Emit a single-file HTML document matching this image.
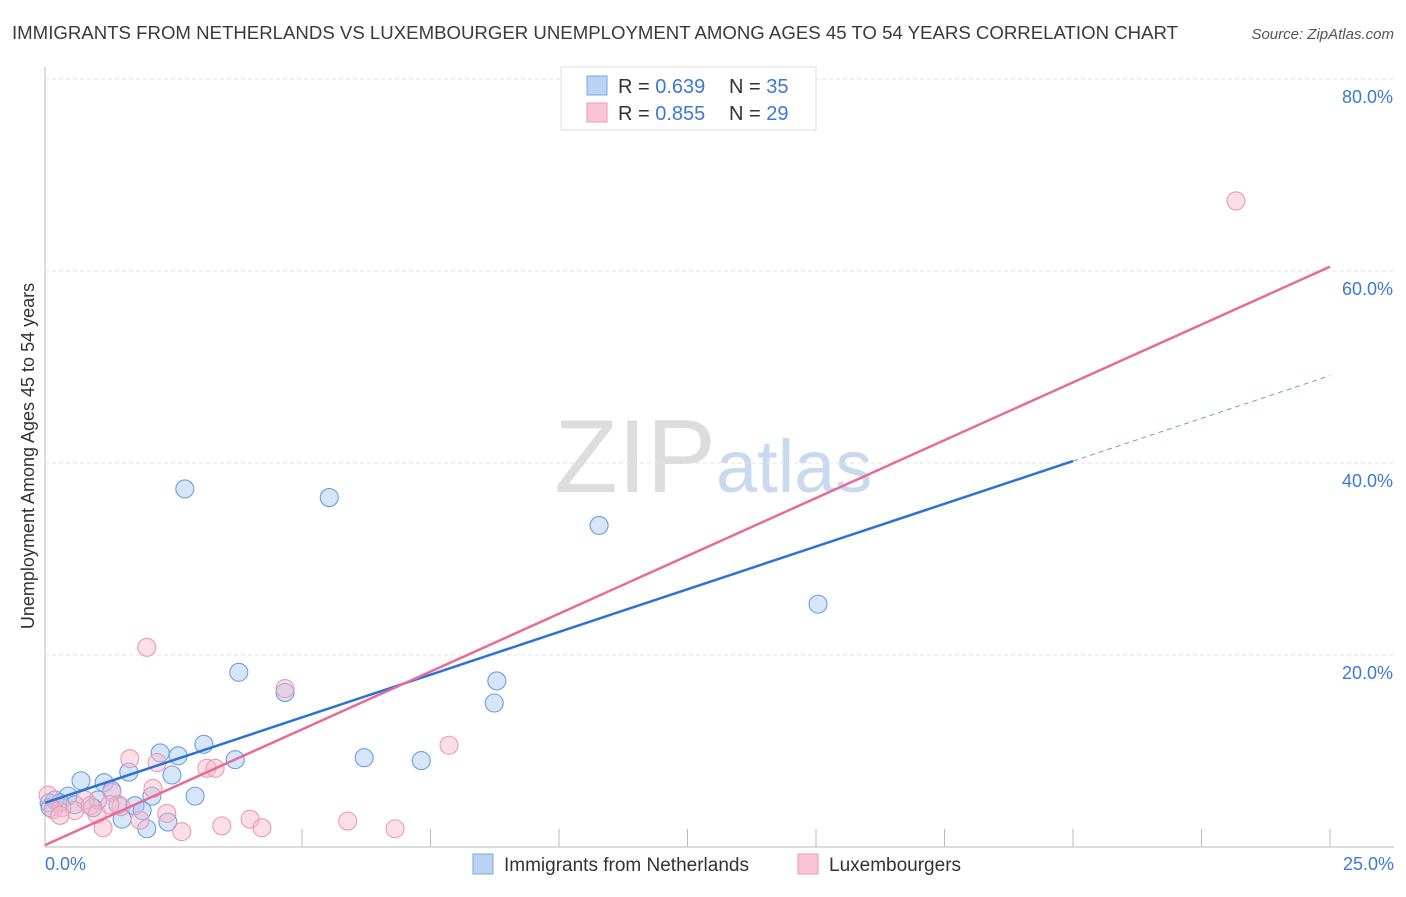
<!DOCTYPE html>
<html><head><meta charset="utf-8"><style>
body{margin:0;background:#fff;font-family:"Liberation Sans",sans-serif}
svg text{font-family:"Liberation Sans",sans-serif}
</style></head><body>
<svg id="c" width="1406" height="892">
<text x="12" y="39" font-size="18" fill="#3a3a3a" textLength="1166" lengthAdjust="spacingAndGlyphs">IMMIGRANTS FROM NETHERLANDS VS LUXEMBOURGER UNEMPLOYMENT AMONG AGES 45 TO 54 YEARS CORRELATION CHART</text>
<text x="1394" y="39" font-size="15" font-style="italic" fill="#555" text-anchor="end">Source: ZipAtlas.com</text>
<text x="716" y="492" font-size="104" font-family="Liberation Serif" fill="#ddd" text-anchor="end">ZIP</text>
<text x="716" y="492" font-size="74" fill="#c9d9ee">atlas</text>
<g id="grid"></g><g id="pts"></g><g id="lines"></g>
<text transform="translate(34,456) rotate(-90)" font-size="18" fill="#333" text-anchor="middle">Unemployment Among Ages 45 to 54 years</text>
<text x="45" y="870" font-size="18" fill="#3d78d8">0.0%</text>
<text x="1394" y="870" font-size="18" fill="#3d78d8" text-anchor="end">25.0%</text>
<g>
<rect x="561" y="67" width="255" height="63" fill="#fff" stroke="#ddd"/>
<rect x="587" y="76" width="20" height="19" fill="#b9d3f5" stroke="#7aa6e6"/>
<rect x="587" y="103" width="20" height="19" fill="#f9c5d5" stroke="#ee9ab5"/>
<text x="618" y="93" font-size="20" fill="#333">R = <tspan fill="#3d78d8">0.639</tspan><tspan x="729">N = </tspan><tspan fill="#3d78d8">35</tspan></text>
<text x="618" y="120" font-size="20" fill="#333">R = <tspan fill="#3d78d8">0.855</tspan><tspan x="729">N = </tspan><tspan fill="#3d78d8">29</tspan></text>
</g>
<g>
<rect x="473" y="854" width="20" height="20" fill="#b9d3f5" stroke="#7aa6e6"/>
<text x="504" y="871" font-size="19" fill="#333">Immigrants from Netherlands</text>
<rect x="798" y="854" width="20" height="20" fill="#f9c5d5" stroke="#ee9ab5"/>
<text x="829" y="871" font-size="19" fill="#333">Luxembourgers</text>
</g>
</svg>
<script>
const yTicks=[20,40,60,80];
const yTickLabels=["20.0%","40.0%","60.0%","80.0%"];
const xTicks=[5,7.5,10,12.5,15,17.5,20,22.5,25];
const blueX=[2.72,5.53,10.78,15.04,3.77,4.67,8.79,8.74,3.09,2.24,2.59,3.70,6.21,7.32,2.47,1.63,0.70,1.15,2.92,2.08,1.30,0.45,0.19,0.29,1.03,1.42,1.75,1.89,0.93,1.5,2.39,1.98,0.08,0.58,0.1];
const blueY=[37.3,36.4,33.5,25.3,18.2,16.1,17.3,15.0,10.7,9.8,9.5,9.1,9.3,9.0,7.5,7.8,6.9,6.7,5.3,5.3,5.9,5.3,4.9,4.6,4.9,4.4,4.3,3.8,4.1,2.9,2.6,1.9,4.6,4.4,4.1];
const pinkX=[23.17,1.98,4.67,7.86,1.65,2.18,3.15,3.31,2.1,1.3,2.37,3.99,5.89,3.44,4.22,2.66,6.81,1.13,1.48,0.78,0.58,0.33,0.06,0.16,0.88,1.85,0.29,1.01,1.26];
const pinkY=[67.3,20.8,16.5,10.6,9.2,8.8,8.2,8.2,6.1,5.7,3.5,2.9,2.7,2.2,2.0,1.6,1.9,2.0,4.2,4.9,3.8,4.1,5.4,3.9,4.3,2.8,3.3,3.4,4.4];
const blueTrend=[4.6,1.78]; // intercept, slope
const pinkTrend=[0.2,2.41];
const X=v=>45+v*51.4, Y=v=>847-v*9.6;
const NS="http://www.w3.org/2000/svg";
function mk(tag,attrs,parent){const e=document.createElementNS(NS,tag);for(const k in attrs)e.setAttribute(k,attrs[k]);document.getElementById(parent).appendChild(e);return e;}
let e=mk('line',{x1:45,y1:67,x2:45,y2:847,stroke:'#bbb'},'grid');


e=mk('line',{x1:45,y1:847,x2:1394,y2:847,stroke:'#bbb'},'grid');


yTicks.forEach((t,i)=>{
 let g=mk('line',{x1:45,y1:Y(t),x2:1394,y2:Y(t),stroke:'#e3e3e3','stroke-dasharray':'4,3'},'grid');
 
 
 let l=mk('text',{x:1393,y:Y(t)+24,'font-size':18,fill:'#3d78d8','text-anchor':'end'},'grid');
 l.textContent=yTickLabels[i];
 
 
});
xTicks.forEach(t=>{
 let g=mk('line',{x1:X(t),y1:829,x2:X(t),y2:847,stroke:'#bbb'},'grid');
 
 
});
function pts(xs,ys,fill,stroke,name){xs.forEach((x,i)=>{
 let c=mk('circle',{cx:X(x),cy:Y(ys[i]),r:9,fill:fill,stroke:stroke,'stroke-width':1.1},'pts');
 
 
});}
pts(blueX,blueY,'rgba(165,198,240,0.45)','#6a9ee2','netherlands-point');
pts(pinkX,pinkY,'rgba(246,185,205,0.45)','#ee98b3','luxembourger-point');
let b=mk('line',{x1:X(0),y1:Y(blueTrend[0]),x2:X(20),y2:Y(blueTrend[0]+20*blueTrend[1]),stroke:'#2a72d8','stroke-width':2.5},'lines');


b=mk('line',{x1:X(20),y1:Y(blueTrend[0]+20*blueTrend[1]),x2:X(25),y2:Y(blueTrend[0]+25*blueTrend[1]),stroke:'#6b9de0','stroke-width':1,'stroke-dasharray':'5,4'},'lines');


b=mk('line',{x1:X(0),y1:Y(pinkTrend[0]),x2:X(25),y2:Y(pinkTrend[0]+25*pinkTrend[1]),stroke:'#e86b97','stroke-width':2.5},'lines');


</script>
</body></html>
